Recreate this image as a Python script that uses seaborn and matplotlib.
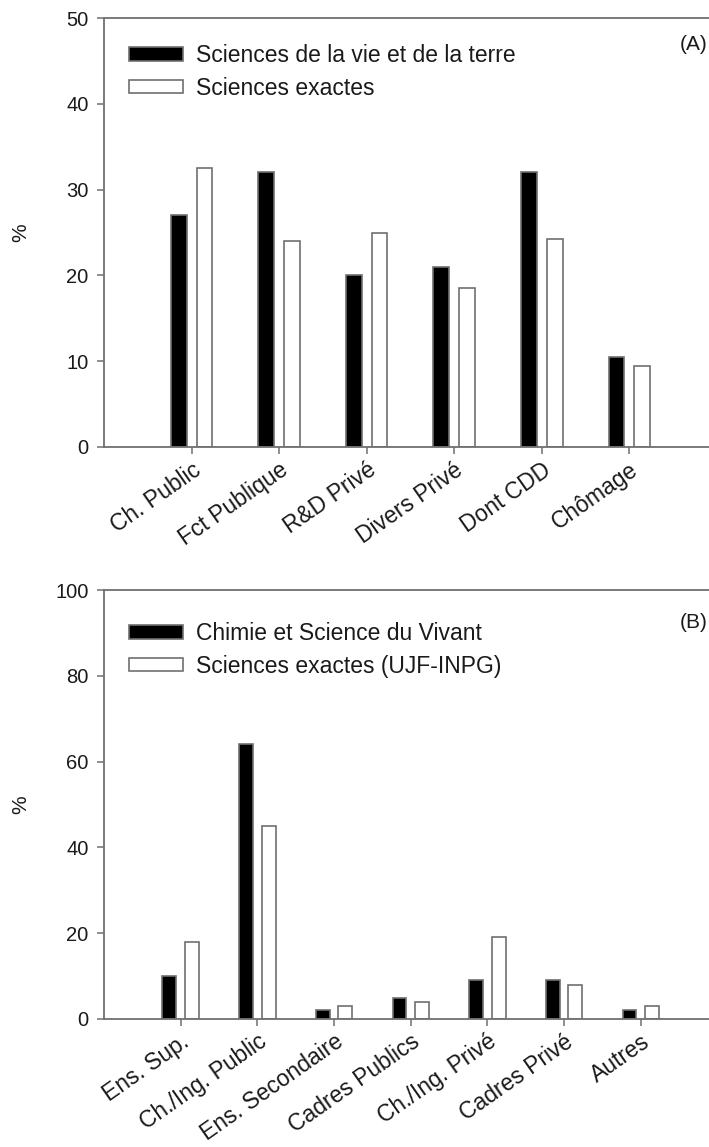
import pandas as pd
import matplotlib
matplotlib.use("Agg")
import matplotlib.pyplot as plt
import seaborn as sns

# Panel A data
cats_a = ["Ch. Public", "Fct Publique", "R&D Privé", "Divers Privé", "Dont CDD", "Chômage"]
svt_a = [27, 32, 20, 21, 32, 10.5]
exactes_a = [32.5, 24, 25, 18.5, 24.3, 9.4]
series_a = ["Sciences de la vie et de la terre", "Sciences exactes"]

# Panel B data
cats_b = ["Ens. Sup.", "Ch./Ing. Public", "Ens. Secondaire", "Cadres Publics",
          "Ch./Ing. Privé", "Cadres Privé", "Autres"]
csv_b = [10, 64, 2, 5, 9, 9, 2]
exactes_b = [18, 45, 3, 4, 19, 8, 3]
series_b = ["Chimie et Science du Vivant", "Sciences exactes (UJF-INPG)"]

sns.set_style("ticks")
plt.rcParams['font.family'] = ['Liberation Sans', 'DejaVu Sans']

GREY = "#707070"
TXT = "#1a1a1a"


def long_df(cats, s1, s2, names):
    df = pd.DataFrame({"cat": cats * 2,
                       "val": s1 + s2,
                       "serie": [names[0]] * len(cats) + [names[1]] * len(cats)})
    return df


def draw_panel(ax, df, names, ymax, yticks, xmax, tag, tag_y, leg_y):
    sns.barplot(data=df, x="cat", y="val", hue="serie", hue_order=names,
                palette=["black", "white"], edgecolor=GREY, linewidth=1.2,
                width=0.59, gap=0.39, ax=ax)
    ax.set_ylim(0, ymax)
    ax.set_xlim(-1.0, xmax)
    ax.set_yticks(yticks)
    ax.set_xlabel("")
    ax.set_ylabel("%", fontsize=15, color=TXT)
    ax.yaxis.set_label_coords(-0.122, 0.5)
    for s in ["left", "bottom", "top"]:
        ax.spines[s].set_color(GREY)
        ax.spines[s].set_linewidth(1.3)
    ax.spines["right"].set_visible(False)
    ax.tick_params(axis="both", direction="out", length=5, width=1.1, color=GREY,
                   labelcolor=TXT)
    ax.tick_params(axis="y", labelsize=14.5, pad=6)
    ax.tick_params(axis="x", labelsize=16.5, pad=3)
    for lab in ax.get_xticklabels():
        lab.set_rotation(35)
        lab.set_ha("right")
        lab.set_rotation_mode("anchor")
    fig.text(680 / 709, tag_y, tag, fontsize=15, color=TXT, ha="left", va="center")
    handles, labels = ax.get_legend_handles_labels()
    ax.legend(handles, labels, loc="upper left", bbox_to_anchor=(129 / 709, leg_y),
              bbox_transform=fig.transFigure, frameon=False, fontsize=16.5,
              handlelength=2.35, handleheight=0.53, handletextpad=0.58,
              labelspacing=0.42, borderpad=0, borderaxespad=0,
              labelcolor=TXT)


fig = plt.figure(figsize=(7.09, 11.47), dpi=100)
ax_a = fig.add_axes([104 / 709, 1 - 447 / 1147, 1 - 104 / 709, (447 - 18) / 1147])
ax_b = fig.add_axes([104 / 709, 1 - 1019 / 1147, 1 - 104 / 709, (1019 - 590) / 1147])

draw_panel(ax_a, long_df(cats_a, svt_a, exactes_a, series_a), series_a,
           50, [0, 10, 20, 30, 40, 50], 5.91, "(A)", 1 - 45 / 1147, 1 - 44 / 1147)
draw_panel(ax_b, long_df(cats_b, csv_b, exactes_b, series_b), series_b,
           100, [0, 20, 40, 60, 80, 100], 6.89, "(B)", 1 - 622 / 1147, 1 - 622 / 1147)

fig.savefig("out.png", dpi=100)
